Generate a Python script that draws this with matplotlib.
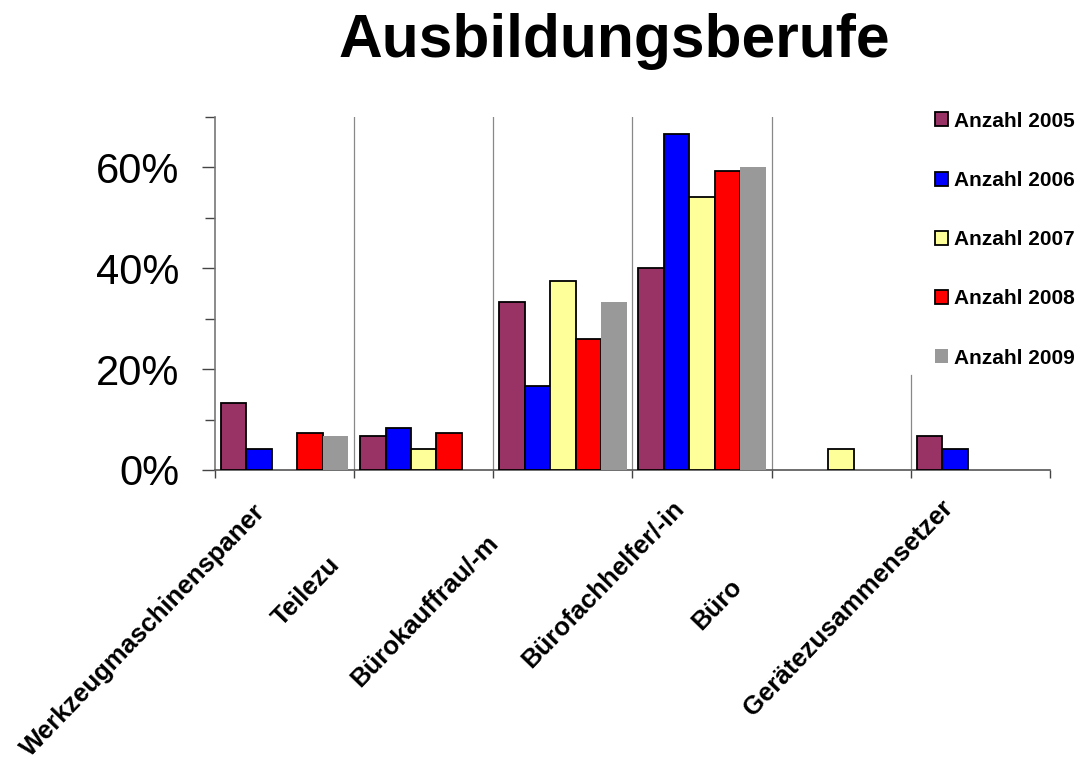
import matplotlib.pyplot as plt
import numpy as np
from matplotlib.transforms import ScaledTranslation

plt.rcParams['font.family'] = ['Liberation Sans', 'DejaVu Sans']

# data (percent)
berufe = ["Werkzeugmaschinenspaner", "Teilezu", "Bürokauffrau/-m",
          "Bürofachhelfer/-in", "Büro", "Gerätezusammensetzer"]
serien = ["Anzahl 2005", "Anzahl 2006", "Anzahl 2007", "Anzahl 2008", "Anzahl 2009"]
a2005 = [13.3, 6.7, 33.3, 40.0, 0, 6.7]
a2006 = [4.2, 8.3, 16.7, 66.7, 0, 4.2]
a2007 = [0, 4.2, 37.5, 54.2, 4.2, 0]
a2008 = [7.4, 7.4, 25.9, 59.3, 0, 0]
a2009 = [6.7, 0, 33.3, 60.0, 0, 0]
werte = [a2005, a2006, a2007, a2008, a2009]

farben = ['#993366', '#0000ff', '#ffff99', '#ff0000', '#999999']
kanten = ['black', 'black', 'black', 'black', 'none']

fig = plt.figure(figsize=(10.82, 7.60), dpi=100)
ax = fig.add_axes([0.1987, 0.3816, 0.7717, 0.4645])

x = np.arange(len(berufe))
w = 0.183
for i, vals in enumerate(werte):
    vals = np.array(vals, dtype=float)
    vals[vals == 0] = np.nan  # empty cells: no bar at all
    ax.bar(x + (i - 2) * w, vals, w, color=farben[i], edgecolor=kanten[i],
           linewidth=1.3, label=serien[i], zorder=3)

ax.set_xlim(-0.5, len(berufe) - 0.5)
ax.set_ylim(0, 70)

# category separators
for b in np.arange(0.5, len(berufe) - 1, 1.0):
    top = 0.27 if b > 4 else 1.0
    ax.axvline(b, ymax=top, color='#888888', linewidth=0.9, zorder=1)

ax.spines['top'].set_visible(False)
ax.spines['right'].set_visible(False)
ax.spines['left'].set_color('#777777')
ax.spines['bottom'].set_color('#555555')
ax.spines['left'].set_linewidth(1.2)
ax.spines['bottom'].set_linewidth(1.2)

ax.set_yticks([0, 20, 40, 60])
ax.set_yticklabels(['0%', '20%', '40%', '60%'], fontsize=30)
ax.set_yticks([10, 30, 50, 70], minor=True)
ax.tick_params(axis='y', which='major', length=9.5, width=1, pad=16, color='#444444')
ax.tick_params(axis='y', which='minor', length=7, width=1, color='#444444')

ax.set_xticks(np.arange(-0.5, len(berufe), 1.0))
ax.set_xticklabels([])
ax.tick_params(axis='x', length=6, width=1, color='#444444')

# rotated category labels (start offsets in points from tick position)
starts = [(-183, -207), (-102, -113), (-146, -157), (-123, -143), (-101, -116), (-164, -178)]
for i, name in enumerate(berufe):
    dx, dy = starts[i]
    tr = ax.get_xaxis_transform() + ScaledTranslation(dx / 72, dy / 72, fig.dpi_scale_trans)
    ax.text(x[i], 0, name, transform=tr, rotation=46, rotation_mode='anchor',
            ha='left', va='baseline', fontsize=18.5, fontweight='bold')

fig.text(0.568, 0.946, "Ausbildungsberufe", ha='center', va='center',
         fontsize=43.6, fontweight='bold')

leg = fig.legend(loc='upper left', bbox_to_anchor=(0.856, 0.864), frameon=False,
                 prop={'size': 15.0, 'weight': 'bold'}, handlelength=0.65,
                 handleheight=0.65, handletextpad=0.3, labelspacing=1.93,
                 borderaxespad=0)

fig.savefig('out.png', dpi=100)
